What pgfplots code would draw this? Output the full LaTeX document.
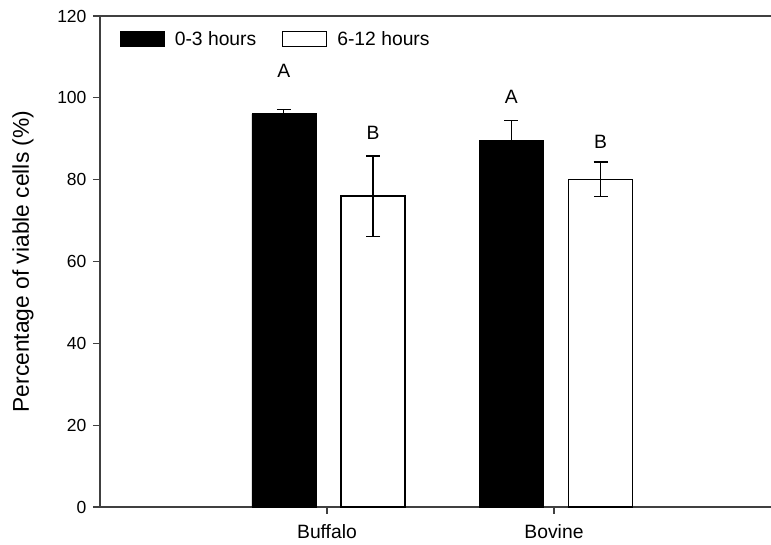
\documentclass[border=0pt]{standalone}
\usepackage{fontspec}
\setmainfont{Liberation Sans}
\usepackage{pgfplots}
\usepackage{pgfplotstable}
\pgfplotsset{compat=1.18}
\definecolor{axisgray}{HTML}{404040}
\pgfplotstableread{
x y err
0.810 96.1 1.0
1.812 89.5 5.0
}\early
\pgfplotstableread{
x y err
1.203 76.0 9.8
2.205 80.1 4.2
}\late
\begin{document}
\begin{tikzpicture}
\begin{axis}[
  scale only axis, width=671pt, height=491pt,
  xmin=0, xmax=2.956, ymin=0, ymax=120,
  axis x line*=box, axis y line*=left,
  axis line style={axisgray, line width=1.2pt},
  xtick={1,2}, xticklabels={Buffalo,Bovine}, xtick pos=bottom,
  ytick={0,20,...,120}, ytick pos=left,
  tick align=outside, major tick length=7pt,
  every tick/.style={axisgray, line width=1.2pt},
  /pgf/number format/assume math mode=true,
  yticklabel style={font=\fontsize{17.5}{20}\selectfont, xshift=-3pt},
  xticklabel style={font=\fontsize{19.3}{22}\selectfont, yshift=-7pt},
  ylabel={Percentage of viable cells (\%)},
  every axis y label/.style={at={(axis description cs:-0.1148,0.5)}, rotate=90, anchor=center, font=\fontsize{22.8}{26}\selectfont},
  ybar, bar width=0.282, bar shift=0pt,
  legend style={draw=none, fill=none, at={(0.0298,0.9735)}, anchor=north west, legend columns=2, inner sep=0pt, font=\fontsize{19.3}{22}\selectfont,
    /tikz/every odd column/.append style={column sep=8pt},
    /tikz/every even column/.append style={column sep=24pt}},
  legend cell align=left,
  clip=false,
]
\addplot[fill=black, draw=black, line width=0.6pt,
  legend image code/.code={\draw[fill=black,draw=black] (0pt,-7.5pt) rectangle (44pt,7.5pt);},
  error bars/.cd, y dir=both, y explicit,
  error bar style={black, line width=1.2pt},
  error mark options={black, rotate=90, mark size=7pt, line width=1.2pt}]
  table[x=x, y=y, y error=err]{\early};
\addlegendentry{0-3 hours}
\addplot[fill=white, draw=black, line width=1.2pt,
  legend image code/.code={\draw[fill=white,draw=black,line width=1pt] (0pt,-7.5pt) rectangle (44pt,7.5pt);},
  error bars/.cd, y dir=both, y explicit,
  error bar style={black, line width=1.2pt},
  error mark options={black, rotate=90, mark size=7pt, line width=1.2pt}]
  table[x=x, y=y, y error=err]{\late};
\addlegendentry{6-12 hours}
\node[font=\fontsize{19.3}{22}\selectfont] at (axis cs:0.810,106.6) {A};
\node[font=\fontsize{19.3}{22}\selectfont] at (axis cs:1.203,91.4) {B};
\node[font=\fontsize{19.3}{22}\selectfont] at (axis cs:1.812,100.3) {A};
\node[font=\fontsize{19.3}{22}\selectfont] at (axis cs:2.205,89.3) {B};
\end{axis}
\pgfresetboundingbox
\path[use as bounding box] ([xshift=-100pt,yshift=-38pt]current axis.south west) rectangle ([yshift=16pt]current axis.north east);
\end{tikzpicture}
\end{document}
